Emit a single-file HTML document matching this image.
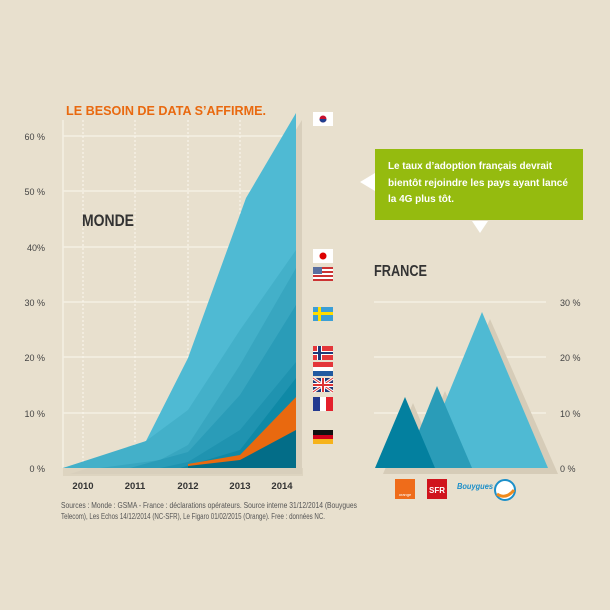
<!DOCTYPE html><html><head><meta charset="utf-8"><style>
body{margin:0;width:610px;height:610px;background:#e8e0ce;overflow:hidden}
svg{display:block}
text{font-family:"Liberation Sans",sans-serif}
</style></head><body>
<svg width="610" height="610" viewBox="0 0 610 610">
<rect width="610" height="610" fill="#e8e0ce"/>
<g stroke="#f4efe4" stroke-width="1.5">
<line x1="63" y1="136" x2="296" y2="136"/><line x1="63" y1="191" x2="296" y2="191"/>
<line x1="63" y1="247" x2="296" y2="247"/><line x1="63" y1="302" x2="296" y2="302"/>
<line x1="63" y1="357" x2="296" y2="357"/><line x1="63" y1="413" x2="296" y2="413"/>
<line x1="63" y1="120" x2="63" y2="468"/>
</g>
<g stroke="#fbf8f0" stroke-width="1" stroke-dasharray="2,2">
<line x1="83" y1="120" x2="83" y2="468"/><line x1="135" y1="120" x2="135" y2="468"/>
<line x1="188" y1="120" x2="188" y2="468"/><line x1="240" y1="120" x2="240" y2="468"/>
</g>
<rect x="63" y="468" width="240" height="8" fill="#ddd4c0"/>
<polygon points="70,474 302,474 302,120 250,204 198,364 152,447" fill="#d8cfbc"/>
<polygon points="63,468 296,468 296,113 246,198 188,358 146,441 135,446" fill="#4fbad3"/>
<polygon points="63,468 296,468 296,250 240,330 188,410 146,441" fill="#43b0c9"/>
<polygon points="100,468 296,468 296,268 240,365 188,445 160,460" fill="#38a6c0"/>
<polygon points="130,468 296,468 296,305 240,395 188,452" fill="#2a9cb8"/>
<polygon points="160,468 296,468 296,362 240,430 188,462" fill="#1f93b0"/>
<polygon points="180,468 296,468 296,378 240,450" fill="#0f89a6"/>
<polygon points="188,468 296,468 296,397 240,455 188,464" fill="#e9690f"/>
<polygon points="188,468 296,468 296,430 240,460 188,466" fill="#036d88"/>
<g font-size="9" fill="#444" text-anchor="end">
<text x="45" y="140">60 %</text><text x="45" y="195">50 %</text><text x="45" y="251">40%</text>
<text x="45" y="306">30 %</text><text x="45" y="361">20 %</text><text x="45" y="417">10 %</text><text x="45" y="472">0 %</text>
</g>
<g font-size="9.5" font-weight="bold" fill="#333" text-anchor="middle">
<text x="83" y="489">2010</text><text x="135" y="489">2011</text><text x="188" y="489">2012</text><text x="240" y="489">2013</text><text x="282" y="489">2014</text>
</g>
<text x="66" y="115" font-size="12.5" font-weight="bold" fill="#e9690f" textLength="200" lengthAdjust="spacingAndGlyphs">LE BESOIN DE DATA S’AFFIRME.</text>
<text x="82" y="226" font-size="17" font-weight="bold" fill="#333" textLength="52" lengthAdjust="spacingAndGlyphs">MONDE</text>
<text x="61" y="508" font-size="8" fill="#555" textLength="296" lengthAdjust="spacingAndGlyphs">Sources : Monde : GSMA - France : déclarations opérateurs. Source interne 31/12/2014 (Bouygues</text>
<text x="61" y="519" font-size="8" fill="#555" textLength="264" lengthAdjust="spacingAndGlyphs">Telecom), Les Echos 14/12/2014 (NC-SFR), Le Figaro 01/02/2015 (Orange). Free : données NC.</text>
<rect x="313" y="112" width="20" height="14" fill="#fff"/><circle cx="323" cy="119" r="3.5" fill="#c8102e"/><path d="M319.5 119a3.5 3.5 0 0 0 7 0z" fill="#1f3f8f"/>
<rect x="313" y="249" width="20" height="14" fill="#fff"/><circle cx="323" cy="256" r="3.5" fill="#d00"/>
<rect x="313" y="267" width="20" height="14" fill="#fff"/><g fill="#c33"><rect x="313" y="267" width="20" height="2"/><rect x="313" y="271" width="20" height="2"/><rect x="313" y="275" width="20" height="2"/><rect x="313" y="279" width="20" height="2"/></g><rect x="313" y="267" width="9" height="7" fill="#5a6fa0"/>
<rect x="313" y="307" width="20" height="14" fill="#3b9fd6"/><rect x="318" y="307" width="3" height="14" fill="#fd0"/><rect x="313" y="312" width="20" height="3" fill="#fd0"/>
<rect x="313" y="346" width="20" height="14" fill="#e4363a"/><rect x="317" y="346" width="5" height="14" fill="#fff"/><rect x="313" y="351" width="20" height="4" fill="#fff"/><rect x="318" y="346" width="3" height="14" fill="#1f3a7a"/><rect x="313" y="352" width="20" height="2" fill="#1f3a7a"/>
<rect x="313" y="362" width="20" height="5" fill="#e4363a"/><rect x="313" y="367" width="20" height="4" fill="#fff"/><rect x="313" y="371" width="20" height="5" fill="#215aa0"/>
<rect x="313" y="378" width="20" height="14" fill="#1f3a7a"/><path d="M313 378L333 392M333 378L313 392" stroke="#fff" stroke-width="3"/><path d="M313 378L333 392M333 378L313 392" stroke="#d33" stroke-width="1"/><rect x="321" y="378" width="4" height="14" fill="#fff"/><rect x="313" y="383" width="20" height="4" fill="#fff"/><rect x="322" y="378" width="2" height="14" fill="#d33"/><rect x="313" y="384" width="20" height="2" fill="#d33"/>
<rect x="313" y="397" width="7" height="14" fill="#233a8f"/><rect x="320" y="397" width="6" height="14" fill="#fff"/><rect x="326" y="397" width="7" height="14" fill="#e4202c"/>
<rect x="313" y="430" width="20" height="5" fill="#111"/><rect x="313" y="435" width="20" height="4" fill="#d0021b"/><rect x="313" y="439" width="20" height="5" fill="#f6b31b"/>
<rect x="375" y="149" width="208" height="71" fill="#95bb0f"/>
<polygon points="360,182 375,173 375,191" fill="#fff"/>
<polygon points="472,221 488,221 480,233" fill="#fff"/>
<g font-size="10.5" font-weight="bold" fill="#fff">
<text x="388" y="169" textLength="164" lengthAdjust="spacingAndGlyphs">Le taux d’adoption français devrait</text>
<text x="388" y="186" textLength="180" lengthAdjust="spacingAndGlyphs">bientôt rejoindre les pays ayant lancé</text>
<text x="388" y="202" textLength="66" lengthAdjust="spacingAndGlyphs">la 4G plus tôt.</text>
</g>
<text x="374" y="276" font-size="16" font-weight="bold" fill="#333" textLength="53" lengthAdjust="spacingAndGlyphs">FRANCE</text>
<g stroke="#f4efe4" stroke-width="1.5"><line x1="374" y1="302" x2="546" y2="302"/><line x1="374" y1="357" x2="546" y2="357"/><line x1="374" y1="413" x2="546" y2="413"/></g>
<g font-size="9" fill="#444"><text x="560" y="306">30 %</text><text x="560" y="361">20 %</text><text x="560" y="417">10 %</text><text x="560" y="472">0 %</text></g>
<polygon points="490,319 558,474 425,474" fill="#d6ccb8"/>
<polygon points="445,391 480,474 410,474" fill="#d6ccb8"/>
<polygon points="413,403 443,474 383,474" fill="#d6ccb8"/>
<polygon points="482,312 548,468 418,468" fill="#4fbad3"/>
<polygon points="437,386 472,468 404,468" fill="#2a9cb8"/>
<polygon points="405,397 435,468 375,468" fill="#03809f"/>
<rect x="395" y="479" width="20" height="20" fill="#ef6c1a"/><text x="405" y="496" font-size="4" fill="#fff" text-anchor="middle">orange</text>
<rect x="427" y="479" width="20" height="20" fill="#d0141d"/><text x="437" y="493" font-size="8" font-weight="bold" fill="#fff" text-anchor="middle">SFR</text>
<text x="457" y="489" font-size="8" font-weight="bold" font-style="italic" fill="#1c8fc9" textLength="36" lengthAdjust="spacingAndGlyphs">Bouygues</text>
<circle cx="505" cy="490" r="10" fill="#fff" stroke="#1c8fc9" stroke-width="2"/><path d="M497 494q9 6 17-4" stroke="#f08a1d" stroke-width="3" fill="none"/>
</svg>
</body></html>
